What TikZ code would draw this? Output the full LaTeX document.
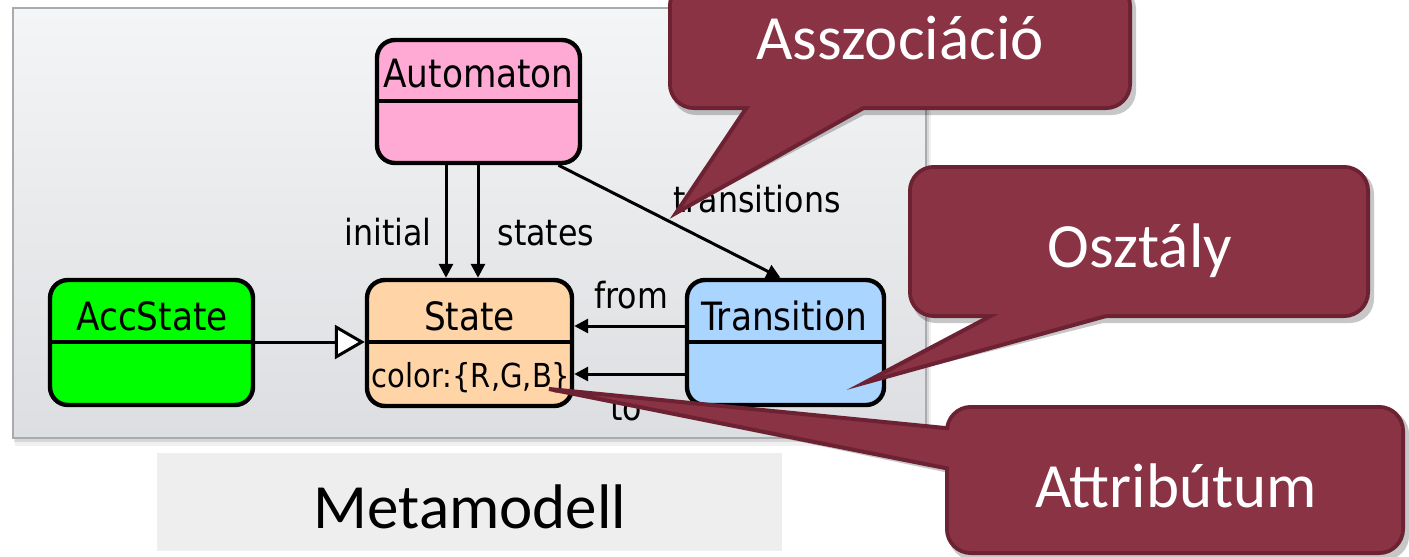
\documentclass[tikz,border=0pt]{standalone}
\usepackage{fontspec}
\usetikzlibrary{arrows.meta,calc}
\newfontfamily\umlfont[FakeStretch=0.88]{DejaVu Sans}
\newfontfamily\notefont{Carlito}
\definecolor{panelTop}{HTML}{F4F5F6}
\definecolor{panelBot}{HTML}{DCDEE1}
\definecolor{panelLine}{HTML}{A9ABAE}
\definecolor{autofill}{HTML}{FFAAD5}
\definecolor{statefill}{HTML}{FFD5A8}
\definecolor{accfill}{HTML}{00FF00}
\definecolor{transfill}{HTML}{AAD5FF}
\definecolor{notefill}{HTML}{8A3345}
\definecolor{noteline}{HTML}{6C2232}
\definecolor{captionfill}{HTML}{EEEEEE}
\begin{document}
\begin{tikzpicture}[x=0.5pt,y=-0.5pt,
  classbox/.style={draw=black, line width=2.2pt, rounded corners=9pt, inner sep=0pt, fill=#1},
  divider/.style={line width=2.2pt},
  title/.style={font=\umlfont\fontsize{19.5}{23}\selectfont, anchor=base, inner sep=0pt},
  attrtext/.style={font=\umlfont\fontsize{16.5}{20}\selectfont, anchor=base, inner sep=0pt},
  role/.style={font=\umlfont\fontsize{18}{22}\selectfont, anchor=base, inner sep=0pt},
  assoc/.style={line width=1.5pt, -{Triangle[length=7pt,width=7pt]}},
  inherit/.style={line width=1.5pt, -{Triangle[length=15pt,width=17pt,fill=white]}},
  notebox/.style={draw=noteline, fill=notefill, line width=2pt, rounded corners=12pt, inner sep=0pt},
  notefillonly/.style={fill=notefill, rounded corners=11pt, inner sep=0pt},
  notetip/.style={draw=noteline, fill=notefill, line width=2pt, line join=miter},
  notetext/.style={font=\notefont\fontsize{31.5}{36}\selectfont, text=white, anchor=base, inner sep=0pt},
  noteshadow/.style={transparency group, opacity=0.22, shift={(4,5)}},
]
\useasboundingbox (0,0) rectangle (1409,557);
\clip (0,0) rectangle (1409,557);
\fill[white] (0,0) rectangle (1409,557);

% metamodel panel with its shadow
\fill[black, opacity=0.06] (15,10) rectangle (931,446);
\fill[black, opacity=0.10] (14,9) rectangle (929,442);
\shade[top color=panelTop, bottom color=panelBot, draw=panelLine, line width=0.8pt] (13,8) rectangle (926,438);

% caption
\node[fill=captionfill, minimum width=312.5pt, minimum height=49pt, inner sep=0pt] (capbox) at (469.5,502) {};
\node[font=\notefont\fontsize{31.5}{36}\selectfont, anchor=base, inner sep=0pt] (caption) at (470,528) {Metamodell};

% classes
\node[classbox=autofill, minimum width=101.5pt, minimum height=61.5pt] (auto) at (478.5,101.5) {};
\node[classbox=statefill, minimum width=102.5pt, minimum height=63pt] (state) at (469.5,343) {};
\node[classbox=accfill, minimum width=101.5pt, minimum height=62.5pt] (acc) at (151.5,342.5) {};
\node[classbox=transfill, minimum width=98.5pt, minimum height=62.5pt] (trans) at (785.5,342.5) {};

\draw[divider] (auto.west |- 0,101) -- (auto.east |- 0,101);
\draw[divider] (state.west |- 0,342) -- (state.east |- 0,342);
\draw[divider] (acc.west |- 0,342) -- (acc.east |- 0,342);
\draw[divider] (trans.west |- 0,342) -- (trans.east |- 0,342);

\node[title] (tauto) at (478.5,87) {Automaton};
\node[title] (tstate) at (469.5,330) {State};
\node[title] (tacc) at (152,330) {AccState};
\node[title] (ttrans) at (784,330) {Transition};
\node[attrtext] (aattr) at (471,387) {color:\{R,G,B\}};

% references between classes
\coordinate (xinit) at (446,0);
\coordinate (xstates) at (478,0);
\draw[assoc] (auto.south -| xinit) -- (state.north -| xinit);
\draw[assoc] (auto.south -| xstates) -- (state.north -| xstates);
\draw[assoc] ($(auto.south)+(80,0)$) -- ($(trans.north)+(-5,0)$);
\draw[assoc] (trans.west |- 0,326) -- (state.east |- 0,326);
\draw[assoc] (trans.west |- 0,374) -- (state.east |- 0,374);
\draw[inherit] (acc.east |- 0,342) -- (state.west |- 0,342);

\node[role] (linit) at (388,245) {initial};
\node[role] (lstates) at (546,245) {states};
\node[role] (ltrans) at (757,212) {transitions};
\node[role] (lfrom) at (631,308) {from};
\node[role] (lto) at (626,420) {to};

% callout: association
\coordinate (assoctip) at (676,213);
\begin{scope}[noteshadow]
  \fill[black, rounded corners=12pt] (668,-20) rectangle (1132,110);
  \fill[black] (assoctip) -- ($(assoctip)!1.25!(745,110)$) -- ($(assoctip)!1.25!(860,110)$) -- cycle;
\end{scope}
\node[notebox, minimum width=230pt, minimum height=63pt] (assocbox) at (900,45) {};
\draw[notetip] (assoctip) -- ($(assoctip)!1.25!(745,110)$) -- ($(assoctip)!1.25!(860,110)$) -- cycle;
\node[notefillonly, minimum width=228pt, minimum height=61pt] (assocfill) at (900,45) {};
\node[notetext] (assocnote) at (900,60) {Asszociáció};

% callout: class
\coordinate (classtip) at (864,383);
\begin{scope}[noteshadow]
  \fill[black, rounded corners=12pt] (908,165) rectangle (1370,318);
  \fill[black] (classtip) -- ($(classtip)!1.3!(987,318)$) -- ($(classtip)!1.3!(1099,318)$) -- cycle;
\end{scope}
\node[notebox, minimum width=229pt, minimum height=74.5pt] (classbox) at (1139,241.5) {};
\draw[notetip] (classtip) -- ($(classtip)!1.3!(987,318)$) -- ($(classtip)!1.3!(1099,318)$) -- cycle;
\node[notefillonly, minimum width=227pt, minimum height=72.5pt] (classfill) at (1139,241.5) {};
\node[notetext] (classnote) at (1140,267) {Osztály};

% callout: attribute
\coordinate (attrtip) at (549,389);
\begin{scope}[noteshadow]
  \fill[black, rounded corners=12pt] (945,405) rectangle (1405,555);
  \fill[black] (attrtip) -- ($(attrtip)!1.08!(945,428)$) -- ($(attrtip)!1.08!(945,468)$) -- cycle;
\end{scope}
\node[notebox, minimum width=228pt, minimum height=73pt] (attrbox) at (1175,480) {};
\draw[notetip] (attrtip) -- ($(attrtip)!1.08!(945,428)$) -- ($(attrtip)!1.08!(945,468)$) -- cycle;
\node[notefillonly, minimum width=226pt, minimum height=71pt] (attrfill) at (1175,480) {};
\node[notetext] (attrnote) at (1176,507) {Attribútum};
\end{tikzpicture}
\end{document}
